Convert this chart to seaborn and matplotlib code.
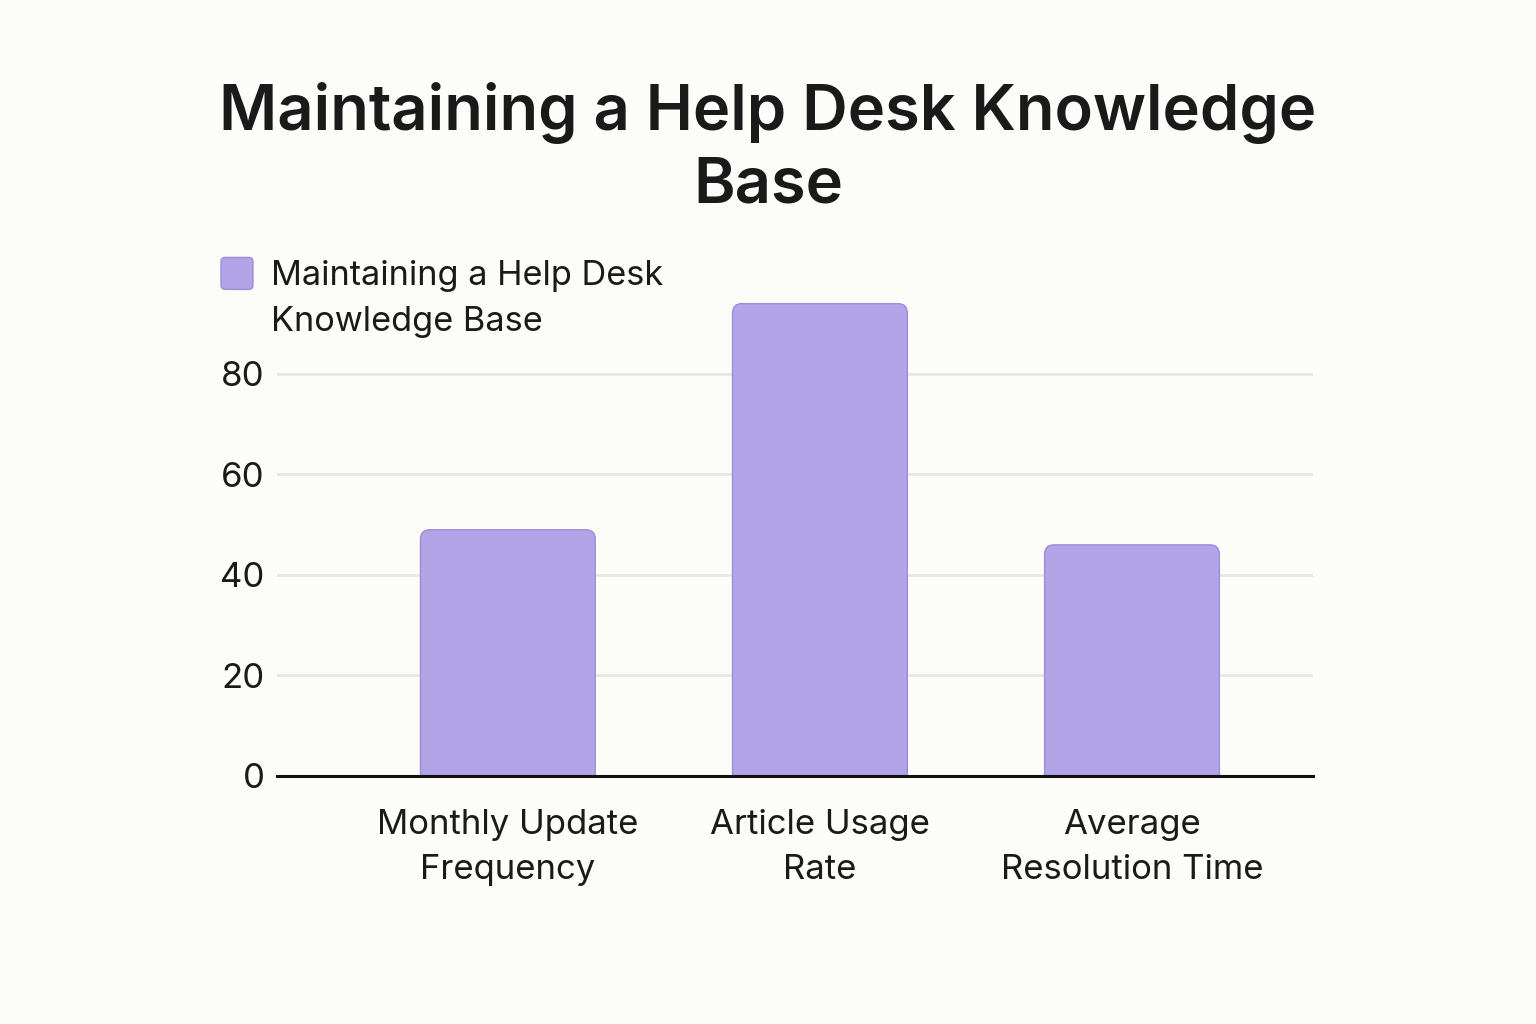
import matplotlib
matplotlib.use("Agg")
import matplotlib.pyplot as plt
from matplotlib.patches import FancyBboxPatch
from matplotlib.legend_handler import HandlerPatch
import seaborn as sns
import pandas as pd

# data
categories = ["Monthly Update\nFrequency", "Article Usage\nRate", "Average\nResolution Time"]
values = [49, 94, 46]
series_name = "Maintaining a Help Desk\nKnowledge Base"
title = "Maintaining a Help Desk Knowledge\nBase"
yticks = [0, 20, 40, 60, 80]

bar_color = "#B3A3E7"
edge_color = "#9E8CDB"
bg = "#FCFCF9"


class TopSquare(HandlerPatch):
    # legend swatch sitting next to the first line of a two-line label
    def create_artists(self, legend, orig_handle, xdescent, ydescent,
                       width, height, fontsize, trans):
        side = width
        p = FancyBboxPatch((-xdescent, -ydescent + height - side + 9), side, side,
                           boxstyle="round,pad=0,rounding_size=3",
                           facecolor=bar_color, edgecolor=edge_color,
                           linewidth=1, transform=trans)
        return [p]


sns.set_theme(style="white")
plt.rcParams["font.family"] = ["Inter", "DejaVu Sans"]

df = pd.DataFrame({"category": categories, "value": values, "series": series_name})

fig = plt.figure(figsize=(15.36, 10.24), dpi=100, facecolor=bg)
ax = fig.add_axes([0.1803, 0.2422, 0.6745, 0.4662])
ax.set_facecolor(bg)

sns.barplot(data=df, x="category", y="value", hue="series", palette=[bar_color],
            width=0.56, ax=ax, zorder=3, legend=False)

ax.set_xlim(-0.74, 2.58)
ax.set_ylim(0, 95)

# swap plain rectangles for rounded-top ones
fig.canvas.draw()
bbox = ax.get_window_extent()
x0, x1 = ax.get_xlim()
y0, y1 = ax.get_ylim()
aspect = ((y1 - y0) / bbox.height) / ((x1 - x0) / bbox.width)
r = 0.03
for p in list(ax.patches):
    x, w, h = p.get_x(), p.get_width(), p.get_height()
    p.remove()
    pad_y = r * aspect
    box = FancyBboxPatch((x, -pad_y * 2), w, h + pad_y * 2,
                         boxstyle=f"round,pad=0,rounding_size={r}",
                         mutation_aspect=aspect, facecolor=bar_color,
                         edgecolor=edge_color, linewidth=1.0, zorder=3)
    ax.add_patch(box)

ax.set_yticks(yticks)
ax.yaxis.grid(True, color="#E6E6E3", linewidth=2, zorder=0)
ax.xaxis.grid(False)
for s in ["left", "right", "top"]:
    ax.spines[s].set_visible(False)
ax.spines["bottom"].set_color("#111111")
ax.spines["bottom"].set_linewidth(2.2)
ax.spines["bottom"].set_zorder(5)
ax.tick_params(axis="both", length=0, labelsize=25, colors="#1a1a1a")
ax.tick_params(axis="y", pad=9)
ax.tick_params(axis="x", pad=24)
for lbl in ax.get_xticklabels():
    lbl.set_linespacing(1.5)
ax.set_xlabel("")
ax.set_ylabel("")

fig.text(0.5, 0.92, title, ha="center", va="top", fontsize=45.5, fontweight="semibold",
         color="#1a1a1a", linespacing=1.27)

handle = FancyBboxPatch((0, 0), 1, 1)
leg = fig.legend([handle], [series_name], loc="upper left",
                 handler_map={FancyBboxPatch: TopSquare()},
                 bbox_to_anchor=(0.1439, 0.746), frameon=False, fontsize=24.7,
                 handlelength=0.93, handleheight=2.4, handletextpad=0.52,
                 borderaxespad=0, borderpad=0)
for t in leg.get_texts():
    t.set_linespacing(1.55)
    t.set_color("#1a1a1a")

fig.savefig("out.png", dpi=100, facecolor=bg)
